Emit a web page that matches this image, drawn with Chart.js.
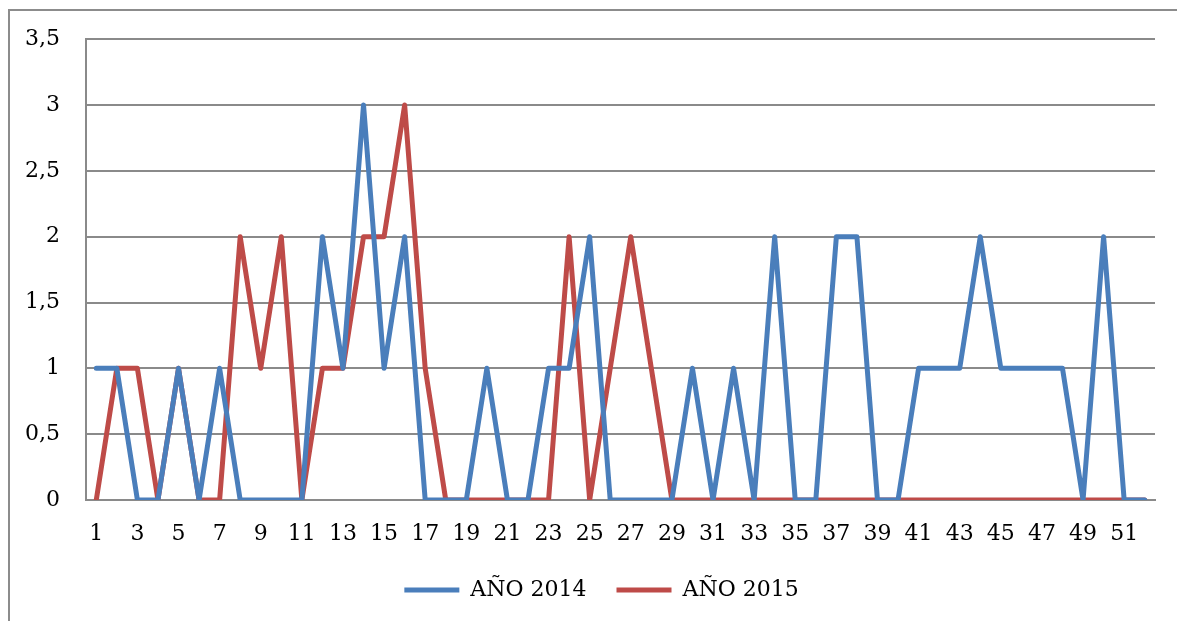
<!DOCTYPE html>
<html>
<head>
<meta charset="utf-8">
<script src="https://cdn.jsdelivr.net/npm/chart.js@4"></script>
<style>
  html, body { margin: 0; padding: 0; background: #fff; overflow: hidden; }
  #frame { position: absolute; left: 8px; top: 9px; width: 1200px; height: 640px; border: 2px solid #8c8c8c; box-sizing: border-box; }
  #chart { position: absolute; left: 0; top: 0; }
</style>
</head>
<body>
<div id="frame"></div>
<canvas id="chart" width="1177" height="621"></canvas>
<script>
const weeks = [1, 2, 3, 4, 5, 6, 7, 8, 9, 10, 11, 12, 13, 14, 15, 16, 17, 18, 19, 20,
  21, 22, 23, 24, 25, 26, 27, 28, 29, 30, 31, 32, 33, 34, 35, 36, 37, 38, 39, 40,
  41, 42, 43, 44, 45, 46, 47, 48, 49, 50, 51, 52];

const year2014 = [1, 1, 0, 0, 1, 0, 1, 0, 0, 0, 0, 2, 1, 3, 1, 2, 0, 0, 0, 1,
  0, 0, 1, 1, 2, 0, 0, 0, 0, 1, 0, 1, 0, 2, 0, 0, 2, 2, 0, 0,
  1, 1, 1, 2, 1, 1, 1, 1, 0, 2, 0, 0];

const year2015 = [0, 1, 1, 0, 1, 0, 0, 2, 1, 2, 0, 1, 1, 2, 2, 3, 1, 0, 0, 0,
  0, 0, 0, 2, 0, 1, 2, 1, 0, 0, 0, 0, 0, 0, 0, 0, 0, 0, 0, 0,
  0, 0, 0, 0, 0, 0, 0, 0, 0, 0, 0, 0];

const seriesNames = ['AÑO 2014', 'AÑO 2015'];

const font = { family: '"DejaVu Serif", serif', size: 22 };
const gridGray = '#8a8a8a';

// the legend sits a bit right of the canvas centre in the original
const shiftLegend = {
  id: 'shiftLegend',
  afterLayout(chart) {
    chart.legend.left += 24;
    chart.legend.right += 24;
  }
};

new Chart(document.getElementById('chart'), {
  type: 'line',
  data: {
    labels: weeks,
    datasets: [{
      label: seriesNames[0],
      data: year2014,
      borderColor: '#4a7ebb',
      backgroundColor: '#4a7ebb',
      borderWidth: 5,
      pointRadius: 0,
      borderCapStyle: 'round',
      borderJoinStyle: 'round',
      tension: 0
    }, {
      label: seriesNames[1],
      data: year2015,
      borderColor: '#be4b48',
      backgroundColor: '#be4b48',
      borderWidth: 5,
      pointRadius: 0,
      borderCapStyle: 'round',
      borderJoinStyle: 'round',
      tension: 0
    }]
  },
  plugins: [shiftLegend],
  options: {
    responsive: false,
    animation: false,
    layout: { padding: { left: 0, right: 22, top: 39, bottom: 10 } },
    plugins: {
      tooltip: { enabled: false },
      legend: {
        position: 'bottom',
        labels: {
          color: '#000',
          font: font,
          usePointStyle: true,
          pointStyle: 'line',
          pointStyleWidth: 55,
          padding: 30
        }
      }
    },
    scales: {
      x: {
        offset: true,
        grid: { display: false },
        border: { display: true, color: gridGray, width: 2 },
        ticks: {
          color: '#000',
          font: font,
          autoSkip: false,
          maxRotation: 0,
          padding: 13,
          callback: function(value, index) {
            return index % 2 === 0 ? this.getLabelForValue(value) : '';
          }
        },
        afterFit: scale => { scale.height = 49; }
      },
      y: {
        min: 0,
        max: 3.5,
        grid: { color: gridGray, lineWidth: 2, drawTicks: false },
        border: { display: true, color: gridGray, width: 2 },
        ticks: {
          stepSize: 0.5,
          color: '#000',
          font: font,
          padding: 26,
          callback: value => String(value).replace('.', ',')
        },
        afterFit: scale => { scale.width = 86; }
      }
    }
  }
});
</script>
</body>
</html>
